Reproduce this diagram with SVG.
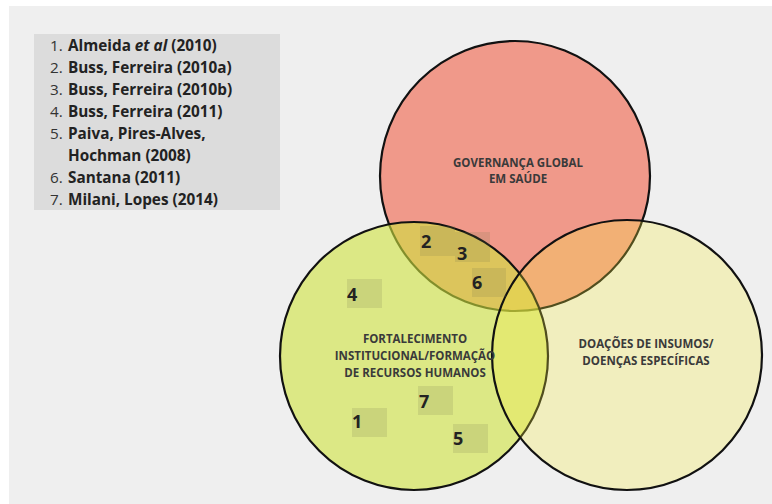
<svg xmlns="http://www.w3.org/2000/svg" width="772" height="504" viewBox="0 0 772 504">
  <style>
    .ref { font-family: "Open Sans", "Noto Sans", "Liberation Sans", sans-serif; font-size: 15.3px; fill: #222; }
    .ref .n { font-weight: 400; fill: #333; }
    .ref .a { font-weight: 700; }
    .lbl { font-family: "Open Sans", "Noto Sans", "Liberation Sans", sans-serif; font-size: 11.5px; font-weight: 700; fill: #3a3a3a; text-anchor: middle; }
    .num { font-family: "Open Sans", "Noto Sans", "Liberation Sans", sans-serif; font-size: 18px; font-weight: 700; fill: #222; }
    .tag { fill: #7a7a50; fill-opacity: 0.18; }
    .set { stroke: #111; stroke-width: 2.2; }
  </style>

  <!-- page -->
  <rect x="0" y="0" width="772" height="504" fill="#ffffff"/>
  <rect x="9" y="6" width="763" height="498" fill="#efefef"/>

  <!-- reference list -->
  <g id="legend">
    <rect x="34" y="34" width="246" height="176" fill="#dcdcdc"/>
    <text class="ref" x="50" y="51"><tspan class="n">1. </tspan><tspan class="a" x="68">Almeida <tspan font-style="italic">et al</tspan> (2010)</tspan></text>
    <text class="ref" x="50" y="73"><tspan class="n">2. </tspan><tspan class="a" x="68">Buss, Ferreira (2010a)</tspan></text>
    <text class="ref" x="50" y="95"><tspan class="n">3. </tspan><tspan class="a" x="68">Buss, Ferreira (2010b)</tspan></text>
    <text class="ref" x="50" y="117"><tspan class="n">4. </tspan><tspan class="a" x="68">Buss, Ferreira (2011)</tspan></text>
    <text class="ref" x="50" y="139"><tspan class="n">5. </tspan><tspan class="a" x="68">Paiva, Pires-Alves,</tspan></text>
    <text class="ref" x="68" y="161"><tspan class="a">Hochman (2008)</tspan></text>
    <text class="ref" x="50" y="183"><tspan class="n">6. </tspan><tspan class="a" x="68">Santana (2011)</tspan></text>
    <text class="ref" x="50" y="205"><tspan class="n">7. </tspan><tspan class="a" x="68">Milani, Lopes (2014)</tspan></text>
  </g>

  <!-- the three sets -->
  <g id="set-governanca">
    <circle class="set" cx="515" cy="176" r="135" fill="#f0998a"/>
  </g>
  <g id="set-fortalecimento">
    <circle class="set" cx="414" cy="356" r="134" fill="#cfe33d" fill-opacity="0.6"/>
  </g>
  <g id="set-doacoes">
    <circle class="set" cx="627" cy="355" r="135" fill="#f8ec40" fill-opacity="0.28"/>
  </g>

  <!-- set titles -->
  <g id="title-governanca">
    <text class="lbl" x="518" y="167">GOVERNANÇA GLOBAL</text>
    <text class="lbl" x="518" y="183">EM SAÚDE</text>
  </g>
  <g id="title-fortalecimento">
    <text class="lbl" x="415" y="343">FORTALECIMENTO</text>
    <text class="lbl" x="415" y="360">INSTITUCIONAL/FORMAÇÃO</text>
    <text class="lbl" x="415" y="377">DE RECURSOS HUMANOS</text>
  </g>
  <g id="title-doacoes">
    <text class="lbl" x="646" y="348">DOAÇÕES DE INSUMOS/</text>
    <text class="lbl" x="646" y="365">DOENÇAS ESPECÍFICAS</text>
  </g>

  <!-- numbered references placed in the sets -->
  <g id="ref-2"><rect class="tag" x="420" y="226" width="35" height="30"/><text class="num" x="421" y="248">2</text></g>
  <g id="ref-3"><rect class="tag" x="455" y="232" width="35" height="30"/><text class="num" x="457" y="260">3</text></g>
  <g id="ref-6"><rect class="tag" x="472" y="268" width="34" height="29"/><text class="num" x="472" y="289">6</text></g>
  <g id="ref-4"><rect class="tag" x="347" y="279" width="35" height="29"/><text class="num" x="347" y="301">4</text></g>
  <g id="ref-7"><rect class="tag" x="418" y="386" width="35" height="29"/><text class="num" x="419" y="408">7</text></g>
  <g id="ref-1"><rect class="tag" x="352" y="408" width="35" height="29"/><text class="num" x="352" y="428">1</text></g>
  <g id="ref-5"><rect class="tag" x="453" y="424" width="35" height="29"/><text class="num" x="453" y="445">5</text></g>

  <g id="connectors"/>
</svg>
